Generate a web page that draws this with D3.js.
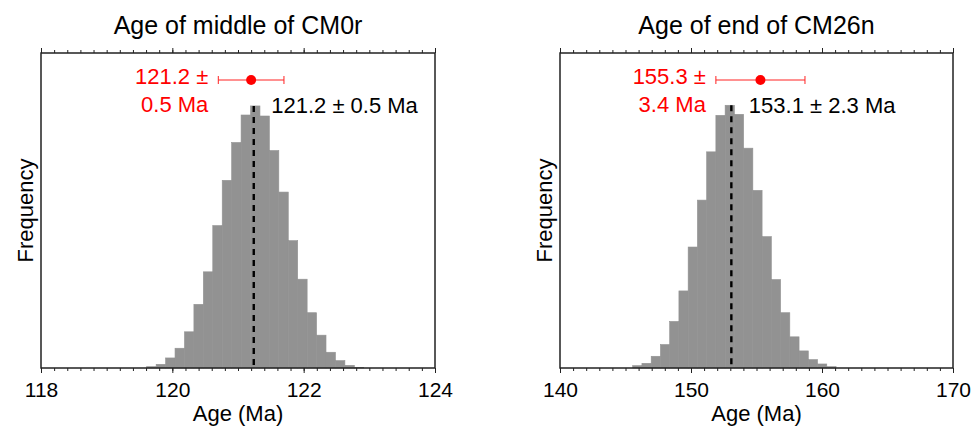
<!DOCTYPE html>
<html>
<head>
<meta charset="utf-8">
<script src="https://cdn.jsdelivr.net/npm/d3@7"></script>
<style>
  html, body { margin: 0; padding: 0; background: #fff; }
  svg text { font-family: "Liberation Sans", Arial, Helvetica, sans-serif; }
</style>
</head>
<body>
<svg id="chart" width="975" height="426"></svg>
<script>
// Two histograms of simulated magnetochron ages
const titles = ["Age of middle of CM0r", "Age of end of CM26n"];
const xDomains = [[118, 124], [140, 170]];
const majorTicks = [[118, 120, 122, 124], [140, 150, 160, 170]];
const minorSteps = [0.2, 1];

// histogram bins: first edge, bin width, counts per bin
const binStarts = [119.61, 145.55];
const binWidths = [0.1437, 0.7055];
const countsCM0r = [4, 11, 30, 59, 108, 190, 287, 425, 560, 673, 755, 782, 752, 649, 525, 380, 265, 165, 98, 47, 22, 8, 2];
const countsCM26n = [7, 14, 35, 70, 139, 230, 361, 501, 645, 754, 784, 757, 656, 530, 392, 264, 165, 93, 51, 25, 12, 4];
const counts = [countsCM0r, countsCM26n];

// model estimate (dashed line) and reference age (red point with error bar)
const modelMean = [121.24, 153.08];
const modelSd = [0.5, 2.3];
const refAge = [121.2, 155.3];
const refErr = [0.5, 3.4];

const svg = d3.select("#chart");
const panels = [{ x0: 41, x1: 435 }, { x0: 560, x1: 953 }];
const plotTop = 53, plotBottom = 368;
const fmt = d3.format(".1f");
const y = d3.scaleLinear().domain([0, 940]).range([plotBottom, plotTop]);

panels.forEach((p, i) => {
  const x = d3.scaleLinear().domain(xDomains[i]).range([p.x0, p.x1]);
  const g = svg.append("g");

  // bars (thin same-colour outline hides seams between neighbours)
  const bins = counts[i].map((c, k) => ({
    x0: binStarts[i] + k * binWidths[i],
    x1: binStarts[i] + (k + 1) * binWidths[i],
    c
  }));
  g.selectAll("rect.bar").data(bins).join("rect")
    .attr("class", "bar")
    .attr("x", d => x(d.x0))
    .attr("width", d => x(d.x1) - x(d.x0))
    .attr("y", d => y(d.c))
    .attr("height", d => y(0) - y(d.c))
    .attr("fill", "#929292")
    .attr("stroke", "#929292")
    .attr("stroke-width", 0.6);

  // dashed model mean
  const peak = d3.max(counts[i]);
  g.append("line")
    .attr("x1", x(modelMean[i])).attr("x2", x(modelMean[i]))
    .attr("y1", y(peak)).attr("y2", y(0))
    .attr("stroke", "#000").attr("stroke-width", 2.4)
    .attr("stroke-dasharray", "6,5");

  g.append("text")
    .attr("x", x(modelMean[i]) + 17.5).attr("y", 113)
    .attr("font-size", 22).attr("fill", "#000")
    .text(`${fmt(modelMean[i])} ± ${fmt(modelSd[i])} Ma`);

  // reference age with error bar
  const ey = 80;
  const lo = refAge[i] - refErr[i], hi = refAge[i] + refErr[i];
  g.append("line").attr("x1", x(lo)).attr("x2", x(hi)).attr("y1", ey).attr("y2", ey)
    .attr("stroke", "#f22").attr("stroke-width", 1);
  [lo, hi].forEach(v => g.append("line")
    .attr("x1", x(v)).attr("x2", x(v)).attr("y1", ey - 4).attr("y2", ey + 4)
    .attr("stroke", "#f22").attr("stroke-width", 1));
  g.append("circle").attr("cx", x(refAge[i])).attr("cy", ey).attr("r", 5).attr("fill", "#ff0000");

  const rt = g.append("text").attr("font-size", 22).attr("fill", "#ff0000").attr("text-anchor", "end");
  rt.append("tspan").attr("x", x(lo) - 10).attr("y", 84.3).text(`${fmt(refAge[i])} ±`);
  rt.append("tspan").attr("x", x(lo) - 10).attr("y", 111.7).text(`${fmt(refErr[i])} Ma`);

  // axes ticks (outward, top and bottom)
  const [d0, d1] = xDomains[i];
  const minor = d3.range(0, Math.round((d1 - d0) / minorSteps[i]) + 1)
    .map(k => +(d0 + k * minorSteps[i]).toFixed(4));
  const axB = g.append("g").attr("transform", `translate(0,${plotBottom})`)
    .call(d3.axisBottom(x).tickValues(minor).tickSize(3).tickFormat(""));
  const axBM = g.append("g").attr("transform", `translate(0,${plotBottom})`)
    .call(d3.axisBottom(x).tickValues(majorTicks[i]).tickSize(5).tickPadding(9).tickFormat(d3.format("d")));
  const axT = g.append("g").attr("transform", `translate(0,${plotTop})`)
    .call(d3.axisTop(x).tickValues(minor).tickSize(3).tickFormat(""));
  const axTM = g.append("g").attr("transform", `translate(0,${plotTop})`)
    .call(d3.axisTop(x).tickValues(majorTicks[i]).tickSize(5).tickFormat(""));
  [axB, axBM, axT, axTM].forEach(a => {
    a.select(".domain").remove();
    a.selectAll(".tick line").attr("stroke", "#222").attr("stroke-width", 1);
  });
  axBM.selectAll(".tick text")
    .attr("font-size", 21).attr("fill", "#000")
    .attr("font-family", "Liberation Sans, Arial, sans-serif");

  // frame
  g.append("rect")
    .attr("x", p.x0).attr("y", plotTop)
    .attr("width", p.x1 - p.x0).attr("height", plotBottom - plotTop)
    .attr("fill", "none").attr("stroke", "#222").attr("stroke-width", 1.5);

  // titles and labels
  const cx = (p.x0 + p.x1) / 2;
  g.append("text").attr("x", cx).attr("y", 34).attr("text-anchor", "middle")
    .attr("font-size", 25).attr("fill", "#000").text(titles[i]);
  g.append("text").attr("x", cx).attr("y", 420.5).attr("text-anchor", "middle")
    .attr("font-size", 22).attr("fill", "#000").text("Age (Ma)");
  g.append("text")
    .attr("transform", `translate(${p.x0 - 8},${(plotTop + plotBottom) / 2}) rotate(-90)`)
    .attr("text-anchor", "middle")
    .attr("font-size", 22).attr("fill", "#000").text("Frequency");
});
</script>
</body>
</html>
